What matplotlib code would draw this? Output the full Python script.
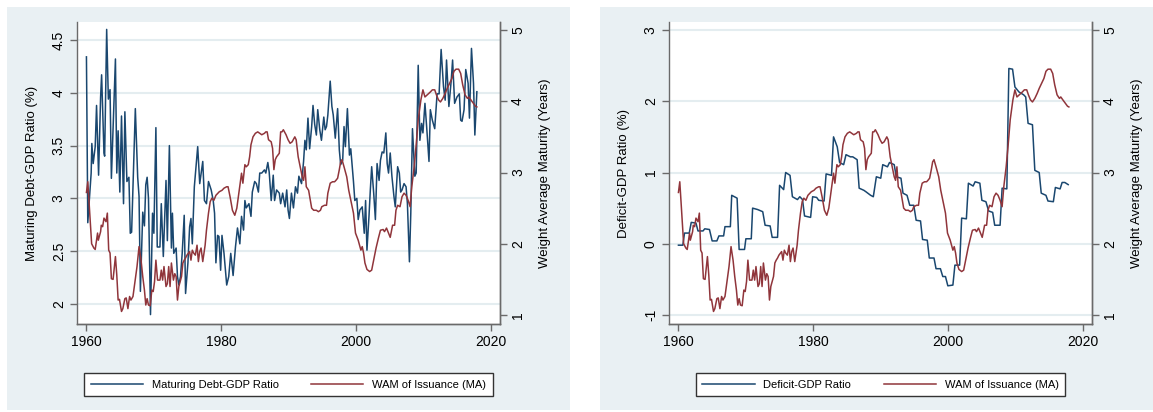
import numpy as np
import matplotlib
matplotlib.use("Agg")
import matplotlib.pyplot as plt
from matplotlib.patches import Rectangle

plt.rcParams['font.family'] = ['Liberation Sans', 'DejaVu Sans']
plt.rcParams['axes.unicode_minus'] = False

NAVY = "#1a476f"
MAROON = "#90353b"
BG = "#e9f0f3"
GRID = "#e4edf0"
AXCOL = "#6a6a6a"

# Maturing debt-GDP ratio (%), left panel
mat_year = [1960.0, 1960.2, 1960.7, 1960.8, 1961.0, 1961.3, 1961.5, 1961.8, 1962.1, 1962.25,
            1962.6, 1962.7, 1963.0, 1963.25, 1963.5, 1963.7, 1964.3, 1964.5, 1964.7, 1964.95,
            1965.2, 1965.5, 1965.7, 1966.0, 1966.3, 1966.5, 1966.7, 1967.25, 1967.6, 1967.8,
            1968.0, 1968.35, 1968.6, 1968.8, 1969.0, 1969.2, 1969.5, 1969.8, 1970.0, 1970.3,
            1970.5, 1970.9, 1971.1, 1971.4, 1971.8, 1972.0, 1972.3, 1972.6, 1972.75, 1972.95,
            1973.3, 1973.5, 1973.7, 1973.95, 1974.2, 1974.5, 1974.7, 1975.05, 1975.3, 1975.5,
            1975.7, 1976.0, 1976.5, 1976.8, 1977.25, 1977.5, 1977.8, 1978.1, 1978.5, 1978.8,
            1979.0, 1979.2, 1979.45, 1979.65, 1979.9, 1980.1, 1980.4, 1980.8, 1981.1, 1981.4,
            1981.75, 1982.1, 1982.4, 1982.75, 1983.0, 1983.3, 1983.5, 1983.7, 1984.1, 1984.4,
            1984.6, 1984.95, 1985.2, 1985.5, 1985.7, 1986.0, 1986.4, 1986.6, 1986.9, 1987.1,
            1987.4, 1987.7, 1987.9, 1988.2, 1988.6, 1988.8, 1989.1, 1989.45, 1989.7, 1989.9,
            1990.1, 1990.4, 1990.7, 1991.0, 1991.3, 1991.5, 1991.9, 1992.2, 1992.4, 1992.6,
            1992.85, 1993.1, 1993.4, 1993.6, 1993.85, 1994.1, 1994.3, 1994.6, 1994.85, 1995.2,
            1995.4, 1995.6, 1995.8, 1996.15, 1996.4, 1996.6, 1996.9, 1997.25, 1997.5, 1997.7,
            1998.0, 1998.2, 1998.4, 1998.7, 1999.0, 1999.2, 1999.6, 1999.8, 2000.1, 2000.3,
            2000.55, 2000.9, 2001.2, 2001.4, 2001.6, 2001.9, 2002.1, 2002.3, 2002.6, 2002.85,
            2003.1, 2003.4, 2003.6, 2003.85, 2004.1, 2004.4, 2004.6, 2004.8, 2005.05, 2005.3,
            2005.6, 2005.8, 2006.15, 2006.4, 2006.6, 2006.8, 2007.1, 2007.4, 2007.6, 2007.9,
            2008.1, 2008.35, 2008.7, 2008.9, 2009.2, 2009.45, 2009.7, 2009.9, 2010.2, 2010.45,
            2010.8, 2011.0, 2011.3, 2011.65, 2012.0, 2012.3, 2012.6, 2012.95, 2013.2, 2013.4,
            2013.75, 2014.1, 2014.3, 2014.6, 2014.95, 2015.3, 2015.5, 2015.7, 2016.0, 2016.25,
            2016.6, 2016.8, 2017.1, 2017.4, 2017.6, 2017.9]
mat_ratio = [4.34, 2.77, 3.24, 3.52, 3.33, 3.49, 3.88, 3.22, 3.96, 4.17,
             3.43, 3.40, 4.60, 3.94, 4.03, 3.19, 4.32, 3.24, 3.64, 3.06,
             3.78, 2.95, 3.82, 3.16, 3.20, 2.67, 2.68, 3.85, 3.20, 3.02,
             2.12, 2.87, 2.74, 3.13, 3.20, 3.00, 1.90, 2.86, 2.67, 3.67,
             2.54, 2.54, 2.95, 2.45, 3.17, 2.60, 3.50, 2.53, 2.86, 2.48,
             2.53, 2.26, 2.18, 2.26, 2.48, 2.84, 2.10, 2.39, 2.73, 2.81,
             2.57, 3.11, 3.49, 3.14, 3.35, 2.98, 2.95, 3.16, 3.08, 2.98,
             2.86, 2.39, 2.65, 2.64, 2.32, 2.65, 2.48, 2.18, 2.26, 2.48,
             2.27, 2.54, 2.72, 2.57, 2.83, 2.70, 2.98, 2.91, 2.95, 2.83,
             3.06, 3.16, 3.14, 3.06, 3.24, 3.24, 3.27, 3.24, 3.34, 3.25,
             2.98, 3.22, 2.98, 3.08, 3.05, 2.95, 3.05, 2.92, 3.08, 2.89,
             2.81, 3.05, 2.91, 3.11, 3.05, 3.21, 3.14, 3.35, 3.55, 3.46,
             3.76, 3.47, 3.68, 3.88, 3.70, 3.60, 3.84, 3.65, 3.55, 3.77,
             3.65, 3.68, 3.79, 4.11, 3.87, 3.79, 3.57, 3.85, 3.46, 3.32,
             3.36, 3.68, 3.49, 3.85, 3.41, 3.47, 3.16, 2.98, 3.00, 2.80,
             2.89, 2.92, 2.67, 2.98, 2.51, 2.83, 3.08, 3.30, 3.05, 2.80,
             3.33, 3.17, 3.36, 3.44, 3.43, 3.62, 3.33, 3.24, 3.43, 3.21,
             3.02, 2.92, 3.30, 3.24, 3.06, 3.08, 3.14, 3.11, 2.95, 2.40,
             2.86, 3.66, 3.21, 3.24, 4.26, 3.55, 3.71, 3.62, 3.90, 3.68,
             3.35, 3.84, 3.74, 3.66, 3.99, 3.99, 4.41, 4.06, 3.93, 4.31,
             3.87, 4.12, 4.31, 3.90, 3.96, 3.99, 3.74, 3.73, 3.84, 4.22,
             4.09, 3.76, 4.42, 4.09, 3.60, 4.01]

# Deficit-GDP ratio (%), right panel
def_year = [1960.0, 1960.65, 1960.9, 1961.6, 1961.9, 1962.6, 1962.9, 1963.65, 1963.9, 1964.6,
            1965.0, 1965.7, 1966.0, 1966.7, 1966.9, 1967.7, 1967.9, 1968.7, 1969.0, 1969.8,
            1970.0, 1970.8, 1971.0, 1971.75, 1972.5, 1972.85, 1973.6, 1973.9, 1974.7, 1975.0,
            1975.6, 1975.9, 1976.55, 1976.9, 1977.65, 1978.0, 1978.4, 1978.7, 1979.6, 1979.9,
            1980.5, 1980.8, 1981.6, 1981.9, 1982.7, 1983.0, 1983.55, 1983.9, 1984.5, 1984.85,
            1985.5, 1985.85, 1986.5, 1986.8, 1987.5, 1987.8, 1988.5, 1988.9, 1989.35, 1990.0,
            1990.3, 1991.0, 1991.3, 1992.0, 1992.3, 1993.0, 1993.3, 1993.9, 1994.3, 1994.9,
            1995.25, 1995.9, 1996.2, 1996.9, 1997.2, 1997.9, 1998.2, 1998.85, 1999.2, 1999.6,
            1999.95, 2000.7, 2001.0, 2001.7, 2002.0, 2002.7, 2003.0, 2003.7, 2004.0, 2004.7,
            2005.0, 2005.6, 2006.0, 2006.6, 2006.9, 2007.7, 2008.0, 2008.7, 2009.0, 2009.55,
            2009.9, 2010.5, 2011.2, 2011.5, 2011.85, 2012.5, 2012.85, 2013.5, 2013.8, 2014.5,
            2014.8, 2015.6, 2015.9, 2016.6, 2016.9, 2017.3, 2017.8]
def_ratio = [-0.02, -0.02, 0.15, 0.15, 0.30, 0.29, 0.18, 0.18, 0.21, 0.20,
             0.04, 0.04, 0.11, 0.11, 0.24, 0.24, 0.68, 0.64, -0.08, -0.08,
             0.07, 0.07, 0.50, 0.48, 0.45, 0.26, 0.25, 0.09, 0.09, 0.82,
             0.76, 1.00, 0.96, 0.66, 0.62, 0.66, 0.62, 0.39, 0.37, 0.66,
             0.65, 0.61, 0.60, 0.98, 0.96, 1.50, 1.36, 1.14, 1.11, 1.25,
             1.22, 1.22, 1.18, 0.78, 0.75, 0.73, 0.68, 0.66, 0.94, 0.92,
             1.11, 1.08, 1.14, 1.11, 0.94, 0.92, 0.71, 0.68, 0.54, 0.54,
             0.33, 0.32, 0.06, 0.05, -0.20, -0.20, -0.35, -0.35, -0.46, -0.46,
             -0.59, -0.58, -0.30, -0.30, 0.36, 0.35, 0.85, 0.81, 0.87, 0.85,
             0.61, 0.59, 0.46, 0.44, 0.26, 0.26, 0.78, 0.77, 2.46, 2.45,
             2.20, 2.13, 2.09, 2.06, 1.69, 1.67, 1.03, 1.00, 0.71, 0.68,
             0.60, 0.59, 0.79, 0.77, 0.86, 0.86, 0.83]

# WAM of issuance, moving average (years), both panels
wam_year = [1960.0, 1960.2, 1960.4, 1960.77, 1961.1, 1961.3, 1961.65, 1961.76, 1962.1, 1962.2,
            1962.4, 1962.6, 1962.9, 1963.1, 1963.3, 1963.5, 1963.7, 1963.95, 1964.3, 1964.5,
            1964.7, 1964.9, 1965.2, 1965.4, 1965.7, 1965.9, 1966.15, 1966.4, 1966.6, 1966.9,
            1967.1, 1967.5, 1967.8, 1968.1, 1968.35, 1968.6, 1968.8, 1969.0, 1969.2, 1969.45,
            1969.7, 1969.9, 1970.1, 1970.3, 1970.55, 1970.9, 1971.1, 1971.3, 1971.5, 1971.8,
            1972.0, 1972.2, 1972.4, 1972.6, 1972.9, 1973.1, 1973.3, 1973.5, 1973.7, 1974.1,
            1974.3, 1974.5, 1974.7, 1974.9, 1975.3, 1975.5, 1975.7, 1975.9, 1976.15, 1976.4,
            1976.6, 1976.8, 1977.0, 1977.25, 1977.6, 1977.8, 1978.1, 1978.35, 1978.6, 1978.9,
            1979.2, 1979.7, 1980.1, 1980.4, 1980.8, 1981.0, 1981.3, 1981.65, 1982.0, 1982.3,
            1982.6, 1983.0, 1983.2, 1983.5, 1983.7, 1984.0, 1984.2, 1984.4, 1984.7, 1985.05,
            1985.4, 1985.7, 1986.0, 1986.4, 1986.6, 1986.8, 1987.0, 1987.4, 1987.6, 1987.8,
            1988.0, 1988.2, 1988.6, 1988.8, 1989.0, 1989.2, 1989.6, 1989.9, 1990.2, 1990.5,
            1990.9, 1991.1, 1991.4, 1991.75, 1992.0, 1992.2, 1992.4, 1992.6, 1992.95, 1993.2,
            1993.4, 1993.7, 1994.1, 1994.4, 1994.7, 1994.9, 1995.3, 1995.6, 1995.8, 1996.15,
            1996.5, 1996.8, 1997.0, 1997.25, 1997.5, 1997.7, 1997.9, 1998.2, 1998.6, 1998.9,
            1999.2, 1999.6, 1999.9, 2000.1, 2000.3, 2000.7, 2000.9, 2001.1, 2001.3, 2001.6,
            2002.0, 2002.3, 2002.6, 2002.95, 2003.3, 2003.6, 2004.0, 2004.2, 2004.5, 2004.8,
            2005.05, 2005.4, 2005.7, 2005.9, 2006.15, 2006.5, 2006.8, 2007.1, 2007.4, 2007.7,
            2008.0, 2008.25, 2008.6, 2008.9, 2009.2, 2009.6, 2009.9, 2010.2, 2010.55, 2011.0,
            2011.3, 2011.65, 2011.9, 2012.2, 2012.5, 2012.85, 2013.2, 2013.5, 2013.85, 2014.2,
            2014.5, 2014.8, 2015.2, 2015.5, 2015.8, 2016.15, 2016.5, 2016.7, 2017.0, 2017.4,
            2017.7, 2017.9]
wam = [2.72, 2.87, 2.57, 2.00, 1.94, 1.92, 2.15, 2.05, 2.17, 2.26,
       2.24, 2.36, 2.31, 2.43, 1.91, 1.87, 1.51, 1.50, 1.82, 1.56,
       1.21, 1.22, 1.05, 1.09, 1.23, 1.24, 1.09, 1.26, 1.21, 1.26,
       1.40, 1.68, 1.96, 1.77, 1.54, 1.35, 1.14, 1.23, 1.14, 1.13,
       1.35, 1.33, 1.47, 1.77, 1.49, 1.49, 1.63, 1.49, 1.68, 1.40,
       1.44, 1.68, 1.40, 1.73, 1.49, 1.58, 1.54, 1.21, 1.40, 1.54,
       1.73, 1.77, 1.80, 1.84, 1.89, 1.77, 1.91, 1.87, 1.84, 1.98,
       1.75, 1.89, 1.94, 1.75, 1.98, 2.19, 2.43, 2.59, 2.64, 2.61,
       2.68, 2.73, 2.75, 2.78, 2.80, 2.80, 2.66, 2.47, 2.40, 2.50,
       2.71, 2.99, 2.85, 3.11, 3.08, 3.11, 3.22, 3.39, 3.50, 3.55,
       3.57, 3.55, 3.53, 3.55, 3.57, 3.57, 3.46, 3.43, 3.34, 3.04,
       3.18, 3.22, 3.27, 3.57, 3.57, 3.60, 3.53, 3.46, 3.41, 3.43,
       3.50, 3.46, 3.22, 3.06, 2.94, 2.89, 3.08, 2.80, 2.75, 2.61,
       2.50, 2.47, 2.47, 2.45, 2.47, 2.52, 2.54, 2.54, 2.71, 2.85,
       2.87, 2.87, 2.89, 2.92, 3.04, 3.15, 3.18, 3.08, 2.94, 2.75,
       2.61, 2.43, 2.15, 2.10, 2.05, 1.91, 1.96, 1.87, 1.73, 1.64,
       1.61, 1.63, 1.77, 1.94, 2.08, 2.19, 2.20, 2.17, 2.22, 2.15,
       2.09, 2.26, 2.26, 2.47, 2.54, 2.52, 2.66, 2.71, 2.68, 2.61,
       2.52, 2.80, 3.08, 3.39, 3.74, 4.02, 4.16, 4.06, 4.09, 4.13,
       4.16, 4.16, 4.09, 4.02, 3.99, 4.04, 4.11, 4.18, 4.25, 4.32,
       4.42, 4.45, 4.45, 4.39, 4.23, 4.09, 4.04, 4.06, 4.02, 3.97,
       3.93, 3.92]

W, H = 1153, 412
fig = plt.figure(figsize=(W / 100, H / 100), dpi=100)

# light panel backgrounds (x0, x1 in pixels)
for x0, x1 in [(7, 570), (600, 1153)]:
    fig.patches.append(Rectangle((x0 / W, 1 - 410 / H), (x1 - x0) / W, 403 / H,
                                 transform=fig.transFigure, facecolor=BG,
                                 edgecolor="none", zorder=-10))


def style_axis(ax):
    ax.spines["top"].set_visible(False)
    for s in ["left", "bottom", "right"]:
        ax.spines[s].set_color(AXCOL)
        ax.spines[s].set_linewidth(1.0)
    ax.tick_params(color=AXCOL, length=5, width=1.0, labelsize=10, pad=3)


def panel(left_px, x, yvals, ylim, yticks, ytlabels, ylabel, label1):
    ax = fig.add_axes([left_px / W, 1 - 324 / H, 423 / W, 302 / H])
    ax.set_facecolor("white")
    ax.set_xlim(1958.6, 2021.33)
    ax.set_ylim(*ylim)
    ax.set_yticks(yticks)
    ax.set_yticklabels(ytlabels)
    ax.set_xticks([1960, 1980, 2000, 2020])
    ax.yaxis.grid(True, color=GRID, lw=1.5)
    ax.set_axisbelow(True)
    style_axis(ax)
    ax.tick_params(axis="y", labelrotation=90)
    for t in ax.get_yticklabels():
        t.set_va("center")
    ax.set_ylabel(ylabel, fontsize=9.5, labelpad=10)
    l1, = ax.plot(x, yvals, color=NAVY, lw=1.1)

    ax2 = ax.twinx()
    ax2.set_ylim(0.874, 5.112)
    ax2.set_yticks([1, 2, 3, 4, 5])
    style_axis(ax2)
    ax2.spines["left"].set_visible(False)
    ax2.tick_params(axis="y", labelrotation=90)
    for t in ax2.get_yticklabels():
        t.set_va("center")
    ax2.set_ylabel("Weight Average Maturity (Years)", fontsize=9.5, labelpad=10)
    l2, = ax2.plot(wam_year, wam, color=MAROON, lw=1.1)

    cx = (left_px + 423 / 2) / W
    fig.legend([l1, l2], [label1, "WAM of Issuance (MA)"], loc="center",
               bbox_to_anchor=(cx, 1 - 384.5 / H), ncol=2, fontsize=8,
               frameon=True, fancybox=False, edgecolor="#333333",
               handlelength=4.7, handletextpad=0.8, columnspacing=2.9,
               borderpad=0.6, framealpha=1)
    return ax, ax2


panel(77, mat_year, mat_ratio, (1.811, 4.670), [2, 2.5, 3, 3.5, 4, 4.5],
      ["2", "2.5", "3", "3.5", "4", "4.5"],
      "Maturing Debt-GDP Ratio (%)", "Maturing Debt-GDP Ratio")
panel(669, def_year, def_ratio, (-1.126, 3.112), [-1, 0, 1, 2, 3],
      ["-1", "0", "1", "2", "3"],
      "Deficit-GDP Ratio (%)", "Deficit-GDP Ratio")

fig.savefig("out.png", dpi=100)
